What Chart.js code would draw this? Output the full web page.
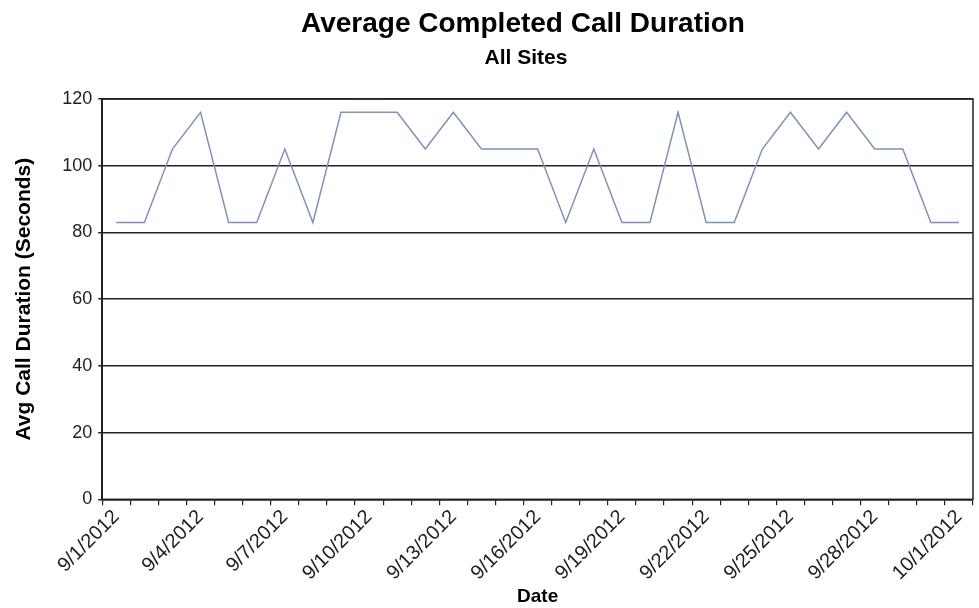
<!DOCTYPE html>
<html>
<head>
<meta charset="utf-8">
<script src="https://cdn.jsdelivr.net/npm/chart.js@4/dist/chart.umd.min.js"></script>
<style>
  html, body { margin: 0; padding: 0; background: #fff; }
  #wrap { position: relative; width: 979px; height: 608px; }
  .ttl { position: absolute; transform: translateX(-50%); white-space: nowrap;
         font-family: "Liberation Sans", Arial, sans-serif; font-weight: bold; color: #000; }
  #t1 { top: 7px; left: 523px; font-size: 28px; }
  #t2 { top: 45px; left: 526px; font-size: 21px; }
</style>
</head>
<body>
<div id="wrap">
  <canvas id="myChart" width="979" height="608"></canvas>
  <div class="ttl" id="t1">Average Completed Call Duration</div>
  <div class="ttl" id="t2">All Sites</div>
</div>
<script>
//data
const dates = [
  "9/1/2012", "9/2/2012", "9/3/2012", "9/4/2012", "9/5/2012", "9/6/2012", "9/7/2012", "9/8/2012",
  "9/9/2012", "9/10/2012", "9/11/2012", "9/12/2012", "9/13/2012", "9/14/2012", "9/15/2012",
  "9/16/2012", "9/17/2012", "9/18/2012", "9/19/2012", "9/20/2012", "9/21/2012", "9/22/2012",
  "9/23/2012", "9/24/2012", "9/25/2012", "9/26/2012", "9/27/2012", "9/28/2012", "9/29/2012",
  "9/30/2012", "10/1/2012"
];
const avgDuration = [
  83, 83, 105, 116, 83, 83, 105, 83, 116, 116, 116, 105, 116, 105, 105,
  105, 83, 105, 83, 83, 116, 83, 83, 105, 116, 105, 116, 105, 105, 83, 83
];
const yTicks = [0, 20, 40, 60, 80, 100, 120];

const font = "'Liberation Sans', Arial, sans-serif";

//box round the plot
const frame = {
  id: "frame",
  afterDraw(chart) {
    const a = chart.chartArea, ctx = chart.ctx;
    ctx.save();
    ctx.strokeStyle = "#222";
    ctx.lineWidth = 1.5;
    ctx.strokeRect(a.left, a.top, a.right - a.left, a.bottom - a.top);
    ctx.restore();
  }
};

const data = {
  labels: dates,
  datasets: [{
    label: "Avg Call Duration",
    data: avgDuration,
    borderColor: "#7f93b5",
    borderWidth: 1.5,
    pointRadius: 0,
    tension: 0,
    fill: false
  }]
};

const options = {
  responsive: false,
  animation: false,
  layout: { padding: { top: 99, left: 12, right: 6, bottom: 0 } },
  plugins: {
    legend: { display: false },
    tooltip: { enabled: false }
  },
  scales: {
    x: {
      offset: true,
      grid: { offset: true, drawOnChartArea: false, color: "#222", lineWidth: 1.2, tickLength: 6 },
      border: { color: "#222", width: 1.5 },
      ticks: {
        autoSkip: false,
        minRotation: 45,
        maxRotation: 45,
        padding: 0,
        color: "#222",
        font: { family: font, size: 20 },
        callback: function (v, i) { return i % 3 === 0 ? dates[i] : ""; }
      },
      title: { display: true, text: "Date", color: "#000", font: { family: font, size: 19, weight: "bold" }, padding: { top: 0, bottom: 0 } }
    },
    y: {
      min: yTicks[0],
      max: yTicks[yTicks.length - 1],
      afterBuildTicks: (s) => { s.ticks = yTicks.map(v => ({ value: v })); },
      grid: { color: "#222", lineWidth: 1.5, tickLength: 4 },
      border: { color: "#222", width: 1.5 },
      ticks: { color: "#222", padding: 6, font: { family: font, size: 18 } },
      title: { display: true, text: "Avg Call Duration (Seconds)", color: "#000", font: { family: font, size: 21, weight: "bold" }, padding: { top: 0, bottom: 19 } }
    }
  }
};

const myChart = new Chart(document.getElementById("myChart"), {
  type: "line",
  data,
  options,
  plugins: [frame]
});
</script>
</body>
</html>
